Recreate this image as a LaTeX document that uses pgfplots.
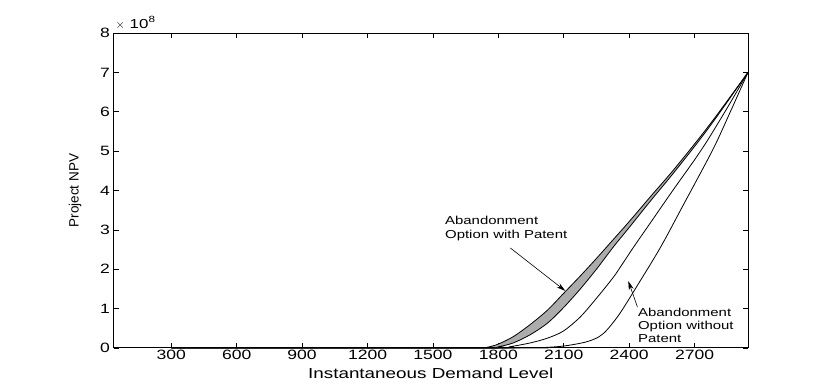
\documentclass[border=0pt]{standalone}
\usepackage{pgfplots}
\pgfplotsset{compat=1.18}
\usepgfplotslibrary{fillbetween}
\usetikzlibrary{arrows.meta}
\usepackage{fontspec}
\setmainfont{Liberation Sans}[FakeStretch=1.3]
\newfontfamily\plainsans{Liberation Sans}
\begin{document}
\begin{tikzpicture}
\begin{axis}[
  scale only axis,
  width=634.5pt, height=315pt,
  xmin=35, xmax=2945, ymin=0, ymax=8,
  xtick={300,600,...,2700}, ytick={0,1,...,8},
  tick align=inside, tick pos=both,
  xticklabel pos=bottom, yticklabel pos=left,
  major tick length=5pt,
  axis line style={line width=1pt},
  tick style={line width=0.6pt, black},
  /pgf/number format/assume math mode=true,
  /pgf/number format/1000 sep={},
  ticklabel style={font=\fontsize{13.5}{15}\selectfont},
  xticklabel style={yshift=1pt},
  xlabel={\fontsize{14.5}{16}\selectfont Instantaneous Demand Level},
  ylabel={\plainsans\fontsize{13.5}{15}\selectfont Project NPV},
  xlabel style={yshift=-1pt},
  ylabel style={yshift=12pt},
  clip=false,
]
\addplot[name path=A, black, line width=0.8pt, smooth, tension=0.5] coordinates {
(300,0) (1700,0) (1750,0.02) (1800,0.1) (1869,0.29) (1947,0.6) (2025,0.96) (2098,1.38) (2176,1.83) (2254,2.3) (2328,2.76) (2400,3.21) (2500,3.86) (2600,4.5) (2714,5.28) (2800,5.9) (2945,7.0)};
\addplot[name path=B, black, line width=0.8pt, smooth, tension=0.5] coordinates {
(300,0) (1750,0) (1800,0.03) (1869,0.13) (1947,0.34) (2025,0.63) (2098,1.02) (2176,1.5) (2254,2.03) (2328,2.57) (2400,3.06) (2500,3.75) (2600,4.42) (2714,5.22) (2800,5.86) (2945,7.0)};
\addplot[fill=gray!65, draw=none] fill between[of=A and B];
\addplot[black, line width=0.8pt, smooth, tension=0.5] coordinates {
(300,0) (1780,0) (1850,0.03) (1947,0.13) (2025,0.25) (2098,0.43) (2176,0.79) (2254,1.29) (2328,1.80) (2360,2.06) (2420,2.56) (2500,3.2) (2600,4.0) (2700,4.78) (2760,5.28) (2850,6.1) (2945,7.0)};
\addplot[black, line width=0.8pt, smooth, tension=0.5] coordinates {
(300,0) (1900,0) (2000,0.01) (2100,0.05) (2200,0.15) (2260,0.28) (2300,0.47) (2360,0.9) (2450,1.7) (2544,2.56) (2650,3.65) (2783,5.03) (2860,5.95) (2945,7.0)};
\node[anchor=west, align=left, inner sep=0pt, font=\fontsize{11.5}{13.5}\selectfont] at (axis cs:1555,3.03) {Abandonment\\Option with Patent};
\draw[black, line width=0.6pt, -{Stealth[length=9pt,width=5pt]}] (axis cs:1855,2.54) -- (axis cs:2107,1.45);
\node[anchor=west, align=left, inner sep=0pt, font=\fontsize{11.5}{13}\selectfont] at (axis cs:2440,0.58) {Abandonment\\Option without\\Patent};
\draw[black, line width=0.6pt, -{Stealth[length=9pt,width=5pt]}] (axis cs:2438,1.04) -- (axis cs:2396,1.70);
\node[anchor=south west, inner sep=0pt, font=\fontsize{13}{15}\selectfont] at ([xshift=2pt,yshift=3pt]rel axis cs:0,1) {$\times$ 10\raisebox{6pt}{\fontsize{9}{9}\selectfont 8}};
\end{axis}
\path ([xshift=-113.5pt,yshift=-36pt]current axis.south west) rectangle ([xshift=67pt,yshift=33pt]current axis.north east);
\end{tikzpicture}
\end{document}
